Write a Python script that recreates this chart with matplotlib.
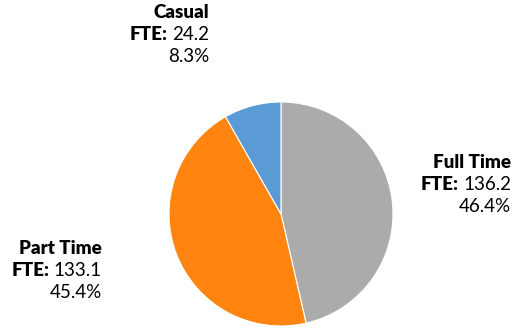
import matplotlib.pyplot as plt
from matplotlib.transforms import offset_copy

plt.rcParams['font.family'] = ['Lato', 'DejaVu Sans']

# FTE by employment type
labels = ['Full Time', 'Part Time', 'Casual']
fte = [136.2, 133.1, 24.2]
pct_labels = ['46.4%', '45.4%', '8.3%']
colors = ['#ABABAB', '#FF8410', '#5B9BD5']

W, H = 514, 328
fig = plt.figure(figsize=(W / 100, H / 100), dpi=100)

cx, cy, r = 281, 214, 112
ax = fig.add_axes([(cx - r) / W, (H - cy - r) / H, 2 * r / W, 2 * r / H])
ax.pie(fte, colors=colors, startangle=90, counterclock=False, radius=1,
       wedgeprops=dict(edgecolor='white', linewidth=0.8))
ax.set_xlim(-1, 1)
ax.set_ylim(-1, 1)
ax.set_aspect('equal')
ax.axis('off')

# label blocks: right edge x and center y of first line (pixels from top-left)
label_pos = {'Full Time': (511, 163), 'Part Time': (102, 248), 'Casual': (209, 12)}
line_gap = 22
fs = 13.5

fig.canvas.draw()
renderer = fig.canvas.get_renderer()
for name, val, pct in zip(labels, fte, pct_labels):
    x, y = label_pos[name]
    fx, fy = x / W, 1 - y / H
    fig.text(fx, fy, name, ha='right', va='center', fontsize=fs, fontweight='heavy')
    fy2 = 1 - (y + line_gap) / H
    t = fig.text(fx, fy2, f'{val:.1f}', ha='right', va='center', fontsize=fs)
    wpx = t.get_window_extent(renderer).width
    tr = offset_copy(fig.transFigure, fig=fig, x=-(wpx + 4) * 72 / 100, y=0, units='points')
    fig.text(fx, fy2, 'FTE:', ha='right', va='center', fontsize=fs, fontweight='heavy', transform=tr)
    fy3 = 1 - (y + 2 * line_gap) / H
    fig.text(fx, fy3, pct, ha='right', va='center', fontsize=fs)

fig.savefig('out.png', dpi=100)
